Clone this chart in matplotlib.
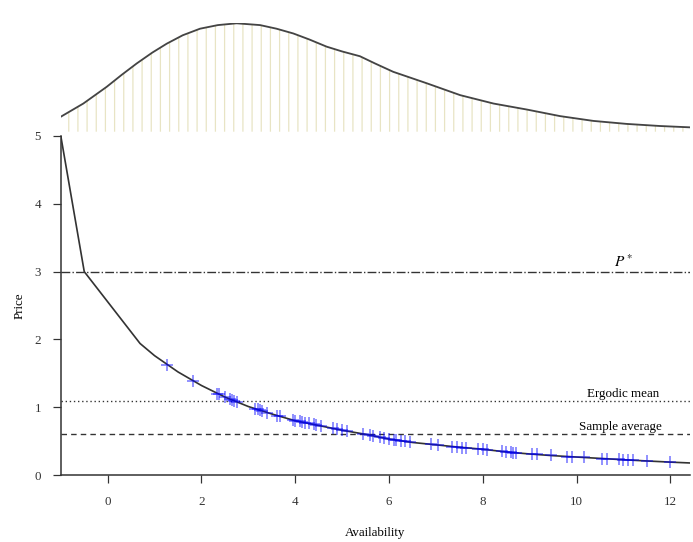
import matplotlib
matplotlib.use("Agg")
import matplotlib.pyplot as plt
import numpy as np

# price function (kinked at the start, smooth afterwards)
price_x = [-1.0, -0.5, 0.69, 1.0, 1.5, 2.0, 2.5, 3.0, 3.5, 4.0, 4.5, 5.0, 5.5, 6.0,
           6.5, 7.0, 7.5, 8.0, 8.5, 9.0, 9.5, 10.0, 10.5, 11.0, 11.5, 12.0, 12.5]
price_y = [5.0, 3.0, 1.94, 1.76, 1.52, 1.32, 1.15, 1.01, 0.90, 0.80, 0.73, 0.66, 0.60, 0.53,
           0.48, 0.445, 0.41, 0.38, 0.34, 0.31, 0.285, 0.265, 0.245, 0.225, 0.207, 0.19, 0.175]

# simulated sample points on the price function
sample_x = [1.26, 1.83, 2.33, 2.38, 2.5, 2.6, 2.65, 2.7, 2.75, 3.15, 3.2, 3.25, 3.3, 3.4,
            3.62, 3.68, 3.95, 4.0, 4.1, 4.15, 4.2, 4.3, 4.4, 4.45, 4.55, 4.8, 4.9, 5.0,
            5.1, 5.45, 5.6, 5.65, 5.8, 5.9, 6.0, 6.1, 6.15, 6.25, 6.35, 6.45, 6.9, 7.05,
            7.35, 7.45, 7.55, 7.65, 7.9, 8.0, 8.1, 8.4, 8.5, 8.6, 8.65, 8.7, 9.05, 9.15,
            9.45, 9.8, 9.9, 10.15, 10.55, 10.65, 10.9, 11.0, 11.1, 11.2, 11.5, 12.0]
sample_y = [1.62, 1.38, 1.20, 1.19, 1.15, 1.12, 1.10, 1.09, 1.08, 0.98, 0.97, 0.96, 0.95, 0.92,
            0.875, 0.865, 0.81, 0.80, 0.79, 0.78, 0.77, 0.76, 0.745, 0.74, 0.72, 0.69, 0.675, 0.66,
            0.65, 0.605, 0.59, 0.58, 0.56, 0.545, 0.53, 0.52, 0.515, 0.505, 0.495, 0.485, 0.45, 0.44,
            0.42, 0.415, 0.405, 0.40, 0.385, 0.38, 0.37, 0.35, 0.34, 0.335, 0.33, 0.33, 0.31, 0.305,
            0.29, 0.27, 0.268, 0.26, 0.243, 0.24, 0.23, 0.225, 0.22, 0.217, 0.207, 0.19]

# stationary density of availability (top panel)
dens_x = [-1.0, -0.52, -0.02, 0.3, 0.62, 0.95, 1.26, 1.6, 1.97, 2.35, 2.75, 3.25, 3.6, 3.96,
          4.3, 4.67, 5.0, 5.38, 5.7, 6.09, 6.8, 7.52, 8.23, 8.94, 9.65, 10.36, 11.07, 11.78, 12.5]
dens_y = [0.025, 0.047, 0.075, 0.095, 0.114, 0.132, 0.147, 0.161, 0.172, 0.178, 0.181, 0.178,
          0.172, 0.164, 0.154, 0.142, 0.134, 0.126, 0.114, 0.100, 0.081, 0.061, 0.047, 0.037,
          0.026, 0.018, 0.013, 0.0095, 0.007]

p_star = 3.0
ergodic_mean = 1.09
sample_avg = 0.605

plt.rcParams['font.family'] = ['Liberation Serif', 'DejaVu Serif']
plt.rcParams['font.size'] = 8.5
plt.rcParams['hatch.linewidth'] = 0.8
plt.rcParams['mathtext.fontset'] = 'stix'

W, H = 693, 542
fig = plt.figure(figsize=(6.3, 6.3 * H / W), dpi=110)

x_lo, x_hi = -1.0, 12.42
left = 60.8 / W
width = (690 - 60.8) / W

# ---- top density panel
ax_top = fig.add_axes([left, (H - 131.7) / H, width, 108.4 / H])
ax_top.fill_between(dens_x, 0, dens_y, facecolor='none', edgecolor='#e8e4c4',
                    hatch='||', linewidth=0)
ax_top.plot(dens_x, dens_y, color='#444444', lw=1.2)
ax_top.set_xlim(x_lo, x_hi)
ax_top.set_ylim(0, max(dens_y))
ax_top.axis('off')

# ---- main price panel
ax = fig.add_axes([left, (H - 475) / H, width, 339 / H])
ax.plot(price_x, price_y, color='#333333', lw=1.1, zorder=3)
ax.plot(sample_x, sample_y, ls='none', marker='+', ms=7.5, mew=1.0,
        color='blue', alpha=0.55, zorder=4)

ax.axhline(p_star, color='#333333', lw=0.9, ls='-.')
ax.axhline(ergodic_mean, color='#333333', lw=0.9, ls=(0, (1, 2)))
ax.axhline(sample_avg, color='#333333', lw=0.9, ls=(0, (4, 3)))

ax.text(11.0, p_star + 0.02, r'$P^*$', ha='center', va='bottom', fontsize=10)
ax.text(11.0, ergodic_mean + 0.02, 'Ergodic mean', ha='center', va='bottom')
ax.text(10.93, sample_avg + 0.02, 'Sample average', ha='center', va='bottom')

ax.set_xlim(x_lo, x_hi)
ax.set_ylim(0, 5)
ax.set_xticks([0, 2, 4, 6, 8, 10, 12])
ax.set_yticks([0, 1, 2, 3, 4, 5])
for s in ['top', 'right']:
    ax.spines[s].set_visible(False)
for s in ['left', 'bottom']:
    ax.spines[s].set_color('#333333')
    ax.spines[s].set_linewidth(1.0)
ax.tick_params(direction='out', length=5, width=0.8, colors='#333333')
ax.tick_params(axis='x', pad=9)
ax.tick_params(axis='y', pad=8)

ax.set_xlabel('Availability', labelpad=12)
ax.set_ylabel('Price', labelpad=6)

fig.savefig('out.png', dpi=110)
